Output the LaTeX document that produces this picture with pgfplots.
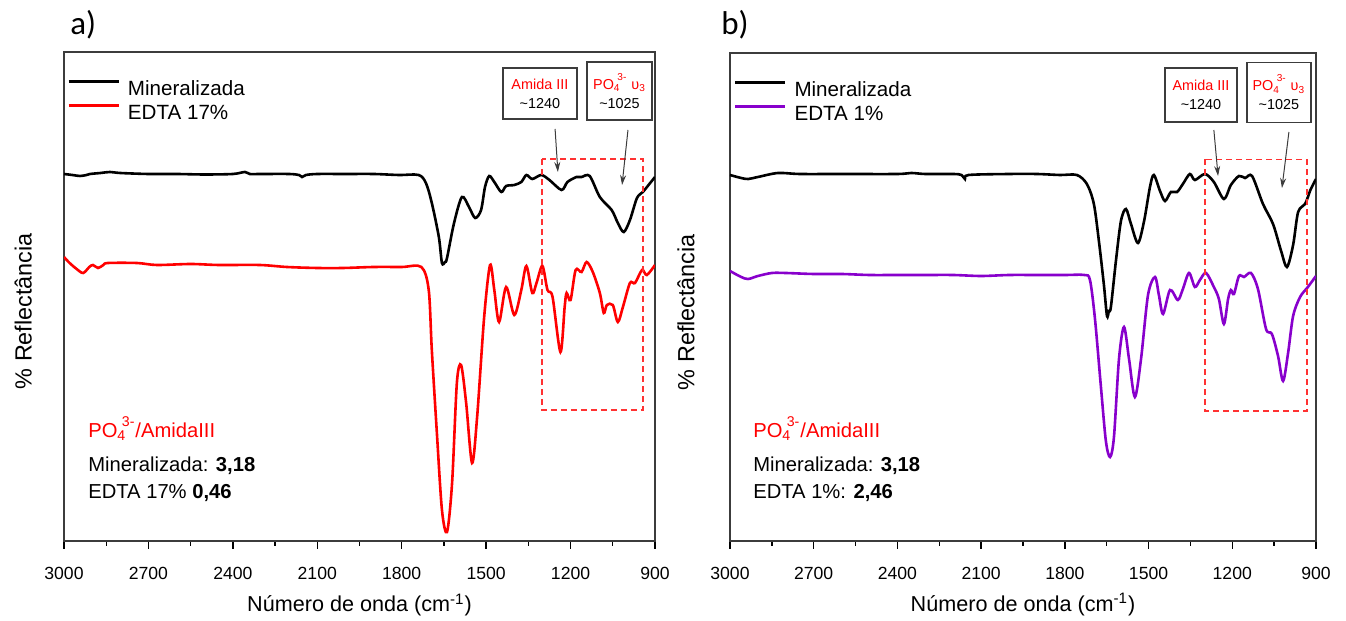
\documentclass[border=0pt]{standalone}
\usepackage{fontspec}
\setmainfont{Liberation Sans}
\newfontfamily\calibri{Carlito}
\usepackage{pgfplots}
\pgfplotsset{compat=1.18}
\usetikzlibrary{arrows.meta}
\definecolor{edtared}{RGB}{255,0,0}
\definecolor{boxred}{RGB}{255,50,50}
\definecolor{purp}{RGB}{136,0,204}
\definecolor{framegray}{RGB}{60,60,60}
\newcommand{\POf}{PO\textsubscript{4}\kern-0.22em\raisebox{0.2em}{\textsuperscript{3-}}}
\pgfplotsset{spec/.style={
  scale only axis, xmin=900, xmax=3000, x dir=reverse, ymin=0,
  xtick={900,1200,...,3000}, minor xtick={1050,1350,...,2850},
  ytick=\empty, xtick pos=left, tick align=outside,
  major tick length=4pt, minor tick length=2.5pt,
  axis line style={framegray, line width=0.8pt},
  every tick/.style={black, line width=0.7pt},
  xticklabel style={font=\fontsize{8.8}{10}\selectfont, /pgf/number format/1000 sep={}, /pgf/number format/assume math mode=true, anchor=center, yshift=-12pt},
  xlabel={Número de onda (cm\textsuperscript{-1})},
  xlabel style={font=\fontsize{10.8}{12}\selectfont, at={(axis description cs:0.5,-0.131)}, anchor=center},
  ylabel={\% Reflectância},
  ylabel style={font=\fontsize{11.7}{13}\selectfont, anchor=center},
  legend style={draw=none, fill=none, anchor=north west, font=\fontsize{10.3}{12}\selectfont, row sep=0pt, inner sep=0pt, nodes={inner sep=1.5pt, text height=8pt, text depth=1pt}, /tikz/every odd column/.append style={column sep=2.5pt}},
  legend image code/.code={\draw[#1] (0pt,3.6pt) -- (25pt,3.6pt);},
  legend cell align=left,
  every axis plot/.append style={line width=1.3pt, smooth},
}}
\tikzset{
  annbox/.style={draw=framegray, line width=0.9pt, fill=white, align=center, inner sep=0pt, font=\fontsize{7.2}{9.5}\selectfont},
  annarrow/.style={-{Stealth[length=5pt,width=3pt]}, line width=0.5pt, framegray},
  dashrect/.style={boxred, dash pattern=on 3pt off 2pt, line width=0.7pt},
  btext/.style={anchor=base west, inner sep=0pt, font=\fontsize{10.1}{12}\selectfont},
}
\begin{document}
\begin{tikzpicture}
\useasboundingbox (0,0) rectangle (673pt,310.5pt);
% ---------------- panel a ----------------
\begin{axis}[spec, at={(32pt,40pt)}, anchor=south west, width=295.5pt, height=244.5pt, ymax=489,
  ylabel style={at={(axis description cs:-0.069,0.47)}},
  legend style={at={(0.005,0.95)}}]
\addplot[black] coordinates {
(3000,367) (2970,366) (2943,365) (2920,366) (2908,367) (2870,368) (2837,369) (2800,368)
(2700,367) (2600,367) (2500,366.5) (2400,367) (2357,369) (2340,367) (2300,367) (2200,367)
(2165,366) (2154,364) (2140,366) (2100,367) (2000,367) (1900,367) (1810,366) (1740,366)
(1714,358) (1693,338) (1668,304) (1657,278) (1646,279) (1639,283) (1614,318) (1586,344)
(1561,334) (1539,323) (1518,331) (1504,354) (1489,365) (1471,359) (1446,349) (1429,355)
(1400,356) (1375,359) (1357,366) (1336,362) (1304,366) (1275,361) (1232,351) (1211,359)
(1179,364) (1161,364) (1132,365) (1096,344) (1054,331) (1032,318) (1011,309) (989,321)
(964,343) (943,349) (920,357) (900,364)};
\addlegendentry{Mineralizada}
\addplot[edtared] coordinates {
(3000,284) (2980,278) (2955,272) (2932,268) (2910,274) (2897,276) (2879,273) (2860,276)
(2844,278) (2741,278) (2670,276) (2550,277) (2450,276) (2304,276) (2208,274) (2100,273)
(2009,273) (1900,274) (1800,274) (1730,274) (1704,251) (1693,191) (1675,108) (1657,31)
(1639,9) (1621,58) (1604,158) (1589,176) (1571,138) (1550,78) (1532,124) (1507,224)
(1486,276) (1471,251) (1454,219) (1429,254) (1400,226) (1375,251) (1357,275) (1336,248)
(1321,258) (1300,275) (1282,251) (1264,244) (1236,189) (1221,234) (1214,248) (1200,241)
(1182,271) (1161,269) (1143,279) (1121,269) (1096,248) (1082,228) (1071,236) (1050,236)
(1032,219) (1014,234) (989,258) (971,258) (946,271) (929,266) (900,276)};
\addlegendentry{EDTA 17\%}
\draw[dashrect] (axis cs:1302,382) rectangle (axis cs:943,131);
\node[annbox, minimum width=37pt, minimum height=25.5pt] at (axis cs:1309,447.5) {{\color{edtared}Amida III}\\\textasciitilde1240};
\node[annbox, minimum width=32.5pt, minimum height=29pt] at (axis cs:1026,450) {{\color{edtared}\POf\ υ\textsubscript{3}}\\\textasciitilde1025};
\draw[annarrow] (axis cs:1255,412) -- (axis cs:1245,369);
\draw[annarrow] (axis cs:996,411) -- (axis cs:1017,356);
\node[btext, text=edtared] at (axis cs:2915,103) {\POf/AmidaIII};
\node[btext] at (axis cs:2915,69) {Mineralizada: \textbf{3,18}};
\node[btext] at (axis cs:2915,42) {EDTA 17\% \textbf{0,46}};
\end{axis}
% ---------------- panel b ----------------
\begin{axis}[spec, at={(365pt,40pt)}, anchor=south west, width=293pt, height=244pt, ymax=488,
  ylabel style={at={(axis description cs:-0.075,0.469)}},
  legend style={at={(0.006,0.95)}}]
\addplot[black] coordinates {
(3000,366) (2960,363) (2935,362) (2900,364) (2828,368) (2750,367) (2600,367) (2400,367)
(2350,368) (2300,367) (2200,367) (2170,366) (2158,362) (2145,366) (2000,367) (1900,367)
(1817,366) (1757,366) (1721,357) (1696,337) (1678,300) (1660,256) (1649,225) (1642,230)
(1635,234) (1617,280) (1599,320) (1581,332) (1563,317) (1538,298) (1516,320) (1495,354)
(1481,366) (1459,350) (1441,340) (1420,349) (1398,349) (1377,357) (1352,367) (1334,361)
(1298,367) (1266,359) (1230,342) (1205,356) (1176,365) (1154,363) (1129,365) (1090,337)
(1054,317) (1025,290) (1004,274) (982,296) (964,329) (939,337) (920,351) (900,362)};
\addlegendentry{Mineralizada}
\addplot[purp] coordinates {
(3000,270) (2960,264) (2935,262) (2900,265) (2850,268) (2800,268) (2700,267) (2600,267)
(2500,266) (2400,266) (2300,266) (2200,266) (2100,265) (2000,266) (1900,266) (1800,266)
(1730,266) (1710,261) (1692,222) (1671,155) (1653,100) (1638,84) (1624,104) (1606,182)
(1588,214) (1570,182) (1549,144) (1527,182) (1502,246) (1477,264) (1463,246) (1448,227)
(1423,251) (1395,241) (1377,252) (1355,268) (1334,254) (1316,261) (1294,268) (1266,254)
(1248,242) (1230,217) (1215,242) (1205,251) (1194,247) (1176,265) (1158,264) (1133,268)
(1108,252) (1079,212) (1058,207) (1036,185) (1018,160) (1000,188) (982,225) (957,244)
(929,254) (900,265)};
\addlegendentry{EDTA 1\%}
\draw[dashrect] (axis cs:1298,381.5) rectangle (axis cs:932,130);
\node[annbox, minimum width=36pt, minimum height=27pt] at (axis cs:1312,446) {{\color{edtared}Amida III}\\\textasciitilde1240};
\node[annbox, minimum width=32pt, minimum height=30pt] at (axis cs:1033,448.5) {{\color{edtared}\POf\ υ\textsubscript{3}}\\\textasciitilde1025};
\draw[annarrow] (axis cs:1266,411) -- (axis cs:1251,365);
\draw[annarrow] (axis cs:997,409) -- (axis cs:1022,353);
\node[btext, text=edtared] at (axis cs:2918,103) {\POf/AmidaIII};
\node[btext] at (axis cs:2918,69) {Mineralizada: \textbf{3,18}};
\node[btext] at (axis cs:2918,42) {EDTA 1\%: \textbf{2,46}};
\end{axis}
\node[anchor=base west, inner sep=0pt, font=\calibri\fontsize{16.5}{18}\selectfont] at (35pt,293pt) {a)};
\node[anchor=base west, inner sep=0pt, font=\calibri\fontsize{16.5}{18}\selectfont] at (360.5pt,293pt) {b)};
\end{tikzpicture}
\end{document}
